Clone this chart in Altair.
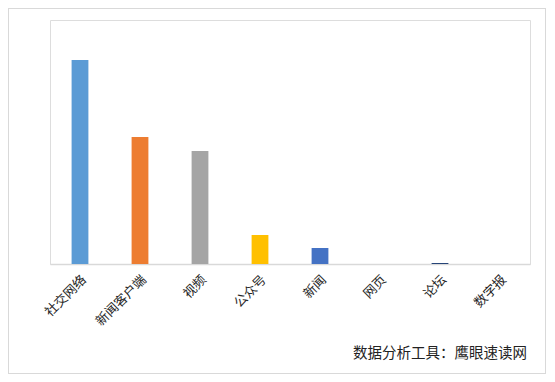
import altair as alt
import pandas as pd

categories = ["社交网络", "新闻客户端", "视频", "公众号", "新闻", "网页", "论坛", "数字报"]
values = [204, 127, 113, 29, 16, 0, 1, 0]
colors = ["#5B9BD5", "#ED7D31", "#A5A5A5", "#FFC000", "#4472C4", "#70AD47", "#264478", "#9E480E"]
source_text = "数据分析工具：鹰眼速读网"

df = pd.DataFrame({"cat": categories, "val": values})

W, H = 480, 244
PL, PT, PR, PB = 42, 12, 16, 110

x = alt.X("cat:N", sort=categories, title=None,
          scale=alt.Scale(paddingInner=0.72, paddingOuter=0.36),
          axis=alt.Axis(labelAngle=-45, labelFont="Noto Sans CJK SC", labelFontSize=13,
                        labelColor="#262626", ticks=False, domainColor="#d9d9d9",
                        domainWidth=1.5, labelPadding=9))

bars = alt.Chart(df).mark_bar().encode(
    x=x,
    y=alt.Y("val:Q", scale=alt.Scale(domain=[0, 244], nice=False), axis=None),
    color=alt.Color("cat:N", scale=alt.Scale(domain=categories, range=colors), legend=None),
)

border = alt.Chart(df).mark_rect(fill=None, stroke="#d9d9d9", strokeWidth=1).encode(
    x=alt.value(-PL + 0.5), x2=alt.value(W + PR - 0.5),
    y=alt.value(-PT + 0.5), y2=alt.value(H + PB - 0.5),
)

src = alt.Chart(pd.DataFrame({"t": [source_text]})).mark_text(
    align="right", baseline="middle", font="Noto Sans CJK SC", fontSize=14.5, color="#222222"
).encode(x=alt.value(477), y=alt.value(334), text="t:N")

chart = alt.layer(bars, border, src).properties(
    width=W, height=H,
    autosize=alt.AutoSizeParams(type="none"),
    padding={"left": PL, "top": PT, "right": PR, "bottom": PB},
).configure_view(stroke=None).configure(background="white")

chart.save("out.html", embed_options={"renderer": "svg", "actions": False})
